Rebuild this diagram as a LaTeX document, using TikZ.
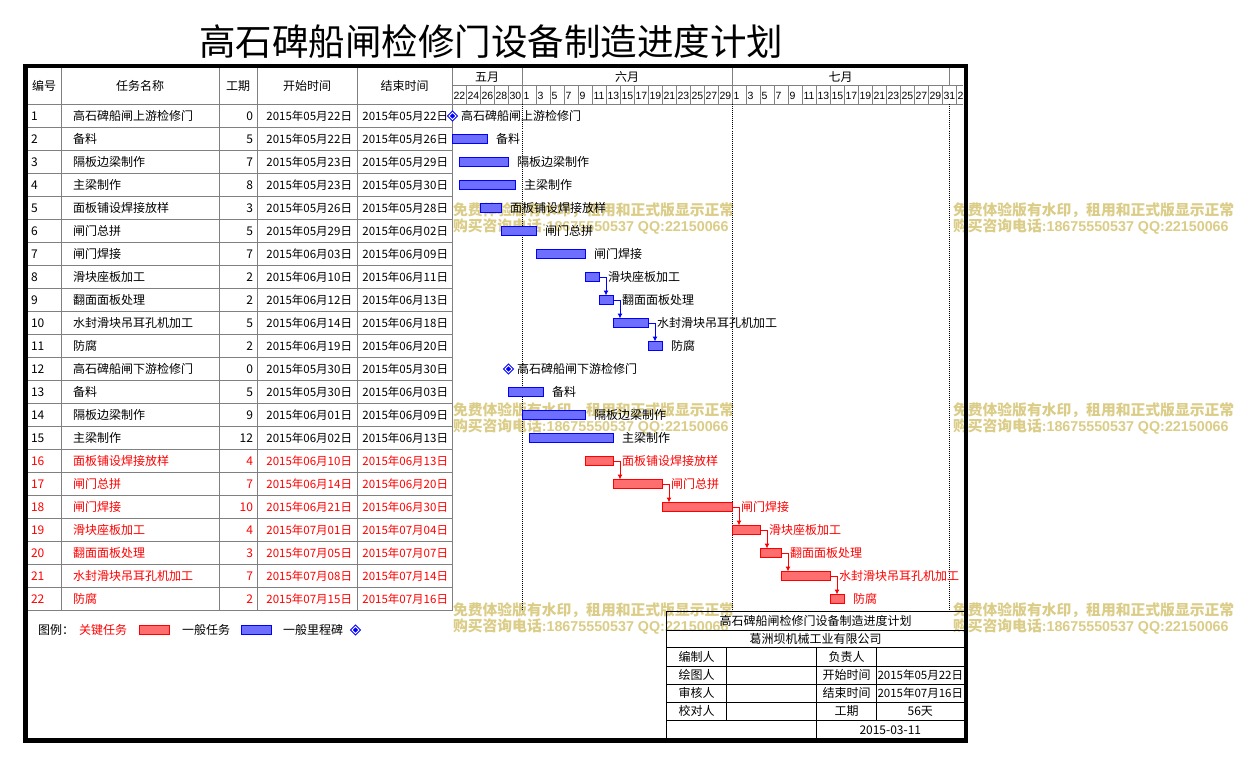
\documentclass[tikz,border=0pt]{standalone}
\usepackage{fontspec}
\setmainfont{Noto Sans CJK SC}
\newfontfamily\latinfont{Liberation Sans}
\usetikzlibrary{shapes.geometric,arrows.meta}
\definecolor{gridc}{RGB}{128,128,128}
\definecolor{wmc}{RGB}{219,205,135}
\definecolor{bfill}{RGB}{110,110,255}
\definecolor{rfill}{RGB}{255,110,110}
\definecolor{tred}{RGB}{255,0,0}
\tikzset{
  every node/.style={inner sep=0pt, outer sep=0pt},
  tx/.style={font=\fontsize{12pt}{12pt}\selectfont, text height=10.5pt, text depth=1.5pt},
  dt/.style={font=\fontsize{11.5pt}{12pt}\selectfont, text height=10pt, text depth=1.5pt},
  daytx/.style={font=\latinfont\fontsize{10.5pt}{11pt}\selectfont, text height=7.6pt, text depth=0pt, anchor=west},
  wmtx/.style={font=\bfseries\fontsize{14.8pt}{15pt}\selectfont, text=wmc, anchor=west, text height=12.8pt, text depth=1.8pt},
  gline/.style={draw=gridc, line width=1pt},
  bline/.style={draw=black, line width=1pt},
  mdot/.style={draw=black, line width=1pt, dash pattern=on 1pt off 1pt},
  gbar/.style={rectangle, line width=1pt, minimum height=9pt, anchor=west},
  nbar/.style={gbar, draw=blue, fill=bfill},
  kbar/.style={gbar, draw=tred, fill=rfill},
  mile/.style={diamond, draw=blue, line width=1pt, double=white, double distance=1pt, fill=blue, minimum width=7pt, minimum height=7pt},
  conn/.style={line width=1pt, -{Latex[length=5pt,width=5pt]}},
}
\begin{document}
\begin{tikzpicture}[x=1pt,y=-1pt]
\fill[white] (0,0) rectangle (1236,765);
\useasboundingbox (0,0) rectangle (1236,765);

% watermarks
\foreach \wx/\wy in {453/209.5,953/209.5,453/409.5,953/409.5,453/609.5,953/609.5}{
  \node[wmtx] (wa-\wx-\wy) at (\wx,\wy) {免费体验版有水印，租用和正式版显示正常};
  \node[wmtx] (wb-\wx-\wy) at (\wx,\wy+16) {购买咨询电话{\latinfont\bfseries\fontsize{14.3pt}{15pt}\selectfont:18675550537 QQ:22150066}};
}

% title
\node[font=\fontsize{36.5pt}{37pt}\selectfont] (ttl) at (491,42) {高石碑船闸检修门设备制造进度计划};

% table grid
\foreach \k in {0,...,22}{
  \draw[gline] (27,104.5+23*\k) -- (452.5,104.5+23*\k);
}
\draw[gline] (452.5,104.5) -- (963,104.5);
\draw[gline] (452.5,86) -- (963,86);
\foreach \cx in {61,219,257,357,452.5}{
  \draw[gline] (\cx,68) -- (\cx,610.5);
}
\foreach \mx in {522,732,949}{
  \draw[gline] (\mx,68) -- (\mx,86);
}
\foreach \k in {1,...,36}{
  \draw[gline] (452.5+14*\k,86) -- (452.5+14*\k,104.5);
}
\foreach \mx in {522,732,949}{
  \draw[mdot] (\mx,104.5) -- (\mx,610.5);
}

% header
\node[tx] (h1) at (44,86) {编号};
\node[tx] (h2) at (140,86) {任务名称};
\node[tx] (h3) at (238,86) {工期};
\node[tx] (h4) at (307,86) {开始时间};
\node[tx] (h5) at (404.5,86) {结束时间};
\node[tx] (m5) at (487,77) {五月};
\node[tx] (m6) at (627,77) {六月};
\node[tx] (m7) at (840.5,77) {七月};
\foreach \k/\dd in {0/22,1/24,2/26,3/28,4/30,5/1,6/3,7/5,8/7,9/9,10/11,11/13,12/15,13/17,14/19,15/21,16/23,17/25,18/27,19/29,20/1,21/3,22/5,23/7,24/9,25/11,26/13,27/15,28/17,29/19,30/21,31/23,32/25,33/27,34/29,35/31,36/2}{
  \node[daytx] (dy\k) at (452.5+14*\k+1,95.5) {\dd};
}

% table rows
\foreach \i/\nm/\du/\sd/\ed in {
1/高石碑船闸上游检修门/0/2015年05月22日/2015年05月22日,
2/备料/5/2015年05月22日/2015年05月26日,
3/隔板边梁制作/7/2015年05月23日/2015年05月29日,
4/主梁制作/8/2015年05月23日/2015年05月30日,
5/面板铺设焊接放样/3/2015年05月26日/2015年05月28日,
6/闸门总拼/5/2015年05月29日/2015年06月02日,
7/闸门焊接/7/2015年06月03日/2015年06月09日,
8/滑块座板加工/2/2015年06月10日/2015年06月11日,
9/翻面面板处理/2/2015年06月12日/2015年06月13日,
10/水封滑块吊耳孔机加工/5/2015年06月14日/2015年06月18日,
11/防腐/2/2015年06月19日/2015年06月20日,
12/高石碑船闸下游检修门/0/2015年05月30日/2015年05月30日,
13/备料/5/2015年05月30日/2015年06月03日,
14/隔板边梁制作/9/2015年06月01日/2015年06月09日,
15/主梁制作/12/2015年06月02日/2015年06月13日,
16/面板铺设焊接放样/4/2015年06月10日/2015年06月13日,
17/闸门总拼/7/2015年06月14日/2015年06月20日,
18/闸门焊接/10/2015年06月21日/2015年06月30日,
19/滑块座板加工/4/2015年07月01日/2015年07月04日,
20/翻面面板处理/3/2015年07月05日/2015年07月07日,
21/水封滑块吊耳孔机加工/7/2015年07月08日/2015年07月14日,
22/防腐/2/2015年07月15日/2015年07月16日}{
  \pgfmathsetmacro\yc{116+23*(\i-1)}
  \def\tc{black}
  \ifnum\i>15 \def\tc{tred}\fi
  \node[tx, text=\tc, anchor=west] (n\i) at (31,\yc) {\i};
  \node[tx, text=\tc, anchor=west] (t\i) at (73,\yc) {\nm};
  \node[tx, text=\tc, anchor=east] (d\i) at (253,\yc) {\du};
  \node[dt, text=\tc, anchor=east] (s\i) at (352,\yc) {\sd};
  \node[dt, text=\tc, anchor=east] (e\i) at (448,\yc) {\ed};
}

% gantt bars
\foreach \i/\a/\b/\lab in {2/0/5/备料,3/1/8/隔板边梁制作,4/1/9/主梁制作,5/4/7/面板铺设焊接放样,6/7/12/闸门总拼,7/12/19/闸门焊接,8/19/21/滑块座板加工,9/21/23/翻面面板处理,10/23/28/水封滑块吊耳孔机加工,11/28/30/防腐,13/8/13/备料,14/10/19/隔板边梁制作,15/11/23/主梁制作,16/19/23/面板铺设焊接放样,17/23/30/闸门总拼,18/30/40/闸门焊接,19/40/44/滑块座板加工,20/44/47/翻面面板处理,21/47/54/水封滑块吊耳孔机加工,22/54/56/防腐}{
  \pgfmathsetmacro\yc{116+23*(\i-1)}
  \pgfmathsetmacro\xa{452+7*\a}
  \pgfmathsetmacro\bw{7*(\b-\a)}
  \ifnum\i>15
    \node[kbar, minimum width=\bw pt] (b\i) at (\xa,\yc) {};
    \node[tx, text=tred, anchor=west] (l\i) at ([xshift=9pt]b\i.east) {\lab};
  \else
    \node[nbar, minimum width=\bw pt] (b\i) at (\xa,\yc) {};
    \node[tx, anchor=west] (l\i) at ([xshift=9pt]b\i.east) {\lab};
  \fi
}
\node[mile] (b1) at (452.5,116) {};
\node[tx, anchor=west] (l1) at (461,116) {高石碑船闸上游检修门};
\node[mile] (b12) at (508.5,369) {};
\node[tx, anchor=west] (l12) at (517,369) {高石碑船闸下游检修门};

% connectors
\foreach \p/\s in {8/9,9/10,10/11}{
  \draw[conn, blue] (b\p.east) -| ([xshift=7pt]b\s.north west);
}
\foreach \p/\s in {16/17,17/18,18/19,19/20,20/21,21/22}{
  \draw[conn, tred] (b\p.east) -| ([xshift=7pt]b\s.north west);
}

% legend
\node[tx, anchor=west] (lg0) at (38,630) {图例：};
\node[tx, anchor=west, text=tred] (lg1) at (79,630) {关键任务};
\node[kbar, minimum width=30pt] (lg2) at (139,630) {};
\node[tx, anchor=west] (lg3) at (182,630) {一般任务};
\node[nbar, minimum width=30pt] (lg4) at (241,630) {};
\node[tx, anchor=west] (lg5) at (283,630) {一般里程碑};
\node[mile] (lg6) at (355.5,630) {};

% title block
\draw[bline] (666,611.5) -- (964,611.5);
\draw[bline] (666,611.5) -- (666,740);
\foreach \ty in {630,647.7,666,684.3,702.3,720}{
  \draw[bline] (666,\ty) -- (964,\ty);
}
\draw[bline] (726.7,647.7) -- (726.7,720);
\draw[bline] (816.7,647.7) -- (816.7,740);
\draw[bline] (876.7,647.7) -- (876.7,720);
\node[tx] (tb1) at (815.5,621) {高石碑船闸检修门设备制造进度计划};
\node[tx] (tb2) at (815.5,639) {葛洲坝机械工业有限公司};
\node[tx] (tc1) at (696.5,657) {编制人};
\node[tx] (tc2) at (696.5,675.2) {绘图人};
\node[tx] (tc3) at (696.5,693.3) {审核人};
\node[tx] (tc4) at (696.5,711.2) {校对人};
\node[tx] (td1) at (846.7,657) {负责人};
\node[tx] (td2) at (846.7,675.2) {开始时间};
\node[tx] (td3) at (846.7,693.3) {结束时间};
\node[tx] (td4) at (846.7,711.2) {工期};
\node[dt] (te2) at (920.3,675.2) {2015年05月22日};
\node[dt] (te3) at (920.3,693.3) {2015年07月16日};
\node[tx] (te4) at (920.3,711.2) {56天};
\node[tx] (tf) at (890.3,729.5) {2015-03-11};

% outer frame
\draw[line width=4.5pt] (25.3,66) rectangle (966,740.5);
\end{tikzpicture}
\end{document}
